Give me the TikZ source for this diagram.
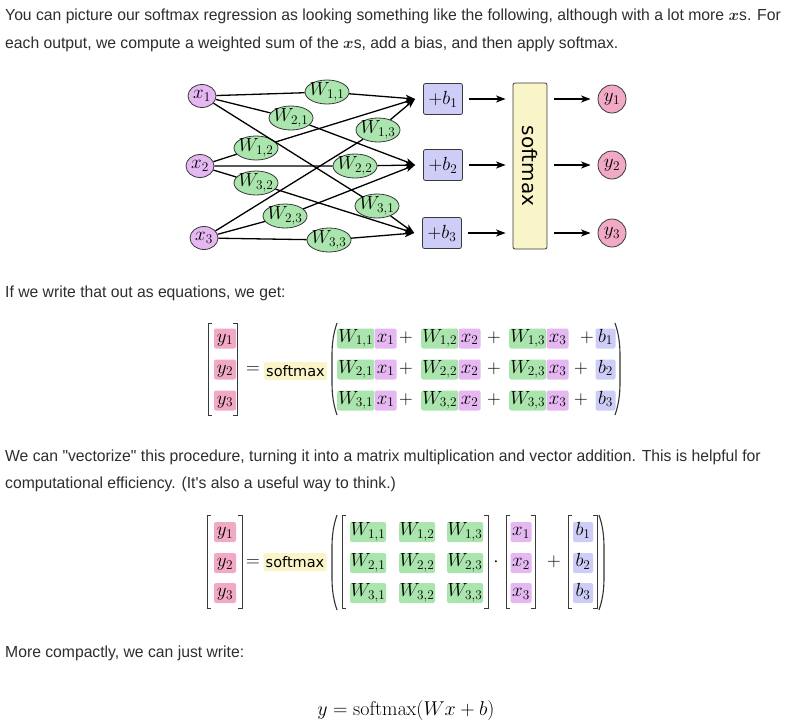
\RequirePackage{fix-cm}
\documentclass[tikz,border=0pt]{standalone}
\usepackage{amsmath}
\usepackage[no-math]{fontspec}
\newfontfamily\textofont{Liberation Sans}[FakeStretch=0.982]
\newfontfamily\etiquetafont{DejaVu Sans}
\usetikzlibrary{arrows.meta,shapes.geometric,positioning}
\definecolor{texto}{HTML}{2E2E2E}
\definecolor{borde}{HTML}{3A3A3A}
\definecolor{colx}{HTML}{E6B8F2}
\definecolor{coly}{HTML}{F2A9C5}
\definecolor{colw}{HTML}{A9E5AC}
\definecolor{colb}{HTML}{CDCDF8}
\definecolor{colsm}{HTML}{FAF4C9}

\begin{document}
\begin{tikzpicture}[x=1pt,y=-1pt,
    >={Stealth[length=9.5pt,width=7pt,inset=2.5pt]},
    mate/.style={font=\fontsize{19}{23}\selectfont},
    parr/.style={font=\textofont\fontsize{16}{20}\selectfont,text=texto,anchor=base west,inner sep=0pt},
    entrada/.style={ellipse,draw=borde,line width=0.8pt,fill=colx,minimum width=28pt,minimum height=23pt,inner sep=0pt,mate},
    salida/.style={circle,draw=borde,line width=0.8pt,fill=coly,minimum size=28pt,inner sep=0pt,mate},
    peso/.style={ellipse,draw=borde,line width=0.8pt,fill=colw,minimum width=44pt,minimum height=24pt,inner sep=-3pt,mate},
    sesgo/.style={rectangle,rounded corners=2pt,draw=borde,line width=0.8pt,fill=colb,minimum width=39pt,minimum height=31pt,inner sep=0pt,mate},
    flecha/.style={->,line width=1.3pt},
    marca/.style={rounded corners=2pt,inner xsep=0pt,inner ysep=0.5pt,text height=13pt,text depth=6pt,mate},
    signo/.style={inner sep=0pt,text height=13pt,text depth=6pt,mate},
    my/.style={marca,fill=coly,minimum width=22pt},
    mx/.style={marca,fill=colx,minimum width=22pt},
    mw/.style={marca,fill=colw,minimum width=37pt},
    mb/.style={marca,fill=colb,minimum width=20pt},
    msm/.style={rounded corners=2pt,inner sep=0pt,fill=colsm,minimum width=63pt,minimum height=18pt,font=\etiquetafont\fontsize{14.5}{17}\selectfont},
    corch/.style={line width=1pt,draw=borde},
    paren/.style={line width=1.1pt,draw=black!80}]
    \fill[white] (0,0) rectangle (807,726);
    \useasboundingbox (0,0) rectangle (807,726);

    %Texto
    \node[parr] (t1) at (5,20.5) {You can picture our softmax regression as looking something like the following, although with a lot more $\boldsymbol{x}$s. For};
    \node[parr] (t2) at (5,48.5) {each output, we compute a weighted sum of the $\boldsymbol{x}$s, add a bias, and then apply softmax.};
    \node[parr] (t3) at (5,297) {If we write that out as equations, we get:};
    \node[parr] (t4) at (5,461) {We can "vectorize" this procedure, turning it into a matrix multiplication and vector addition. This is helpful for};
    \node[parr] (t5) at (5,488) {computational efficiency. (It's also a useful way to think.)};
    \node[parr] (t6) at (5,657) {More compactly, we can just write:};

    %Red
    \node[entrada] (x1) at (202,96) {$x_1$};
    \node[entrada] (x2) at (200,166) {$x_2$};
    \node[entrada] (x3) at (204,238) {$x_3$};
    \foreach \i/\px/\py in {1/443/99,2/443/165,3/442/233}{
        \node[sesgo] (b\i) at (\px,\py) {$+b_\i$};
        \coordinate (e\i) at ([xshift=-8pt]b\i.west);
        \node[salida] (y\i) at (612,\py) {$y_\i$};
    }
    \node[rectangle,rounded corners=2pt,draw=borde,line width=0.8pt,fill=colsm,minimum width=34pt,minimum height=166pt] (sm) at (530,166) {};
    \node[rotate=-90,font=\etiquetafont\fontsize{20}{24}\selectfont] (smt) at (sm.center) {softmax};
    \foreach \i/\j/\px/\py in {1/1/327/92,2/1/291/118,1/3/378/130,1/2/256/148,2/2/355/166,3/2/256/183,3/1/377/206,2/3/285/216,3/3/329/240}{
        \node[peso] (w\i\j) at (\px,\py) {$W_{\i,\j}$};
    }
    \foreach \i in {1,2,3}{
        \foreach \j in {1,2,3}{
            \draw[flecha] (x\j) -- (w\i\j) -- (e\i);
        }
        \draw[flecha,shorten <=6pt,shorten >=7pt] (b\i) -- (b\i -| sm.west);
        \draw[flecha,shorten <=7pt,shorten >=7pt] (sm.east |- y\i) -- (y\i);
    }

    %Ecuacion 1
    \foreach \f/\yy/\sx in {1/338.5/587,2/369.5/581,3/400.5/581}{
        \node[my] (ay\f) at (225,\yy) {$y_\f$};
        \node[mw,anchor=west] (aw\f1) at (337,\yy) {$W_{\f,1}$};
        \node[mx,anchor=west] (ax\f1) at (aw\f1.east) {$x_1$};
        \node[signo] (ap\f1) at (406,\yy) {$+$};
        \node[mw,anchor=west] (aw\f2) at (421,\yy) {$W_{\f,2}$};
        \node[mx,anchor=west] (ax\f2) at (aw\f2.east) {$x_2$};
        \node[signo] (ap\f2) at (494,\yy) {$+$};
        \node[mw,anchor=west] (aw\f3) at (509,\yy) {$W_{\f,3}$};
        \node[mx,anchor=west] (ax\f3) at (aw\f3.east) {$x_3$};
        \node[signo] (ap\f3) at (\sx,\yy) {$+$};
        \node[mb] (ab\f) at (605.5,\yy) {$b_\f$};
    }
    \node[signo] (aeq) at (253,369.5) {$=$};
    \node[msm] (asm) at (295.5,371) {softmax};

    %Ecuacion 2
    \foreach \f/\yy in {1/532,2/563,3/593}{
        \node[my] (by\f) at (225,\yy) {$y_\f$};
        \foreach \c/\xx in {1/368,2/417,3/465}{
            \node[mw,minimum width=36pt] (bw\f\c) at (\xx,\yy) {$W_{\f,\c}$};
        }
        \node[mx,minimum width=21pt] (bx\f) at (521,\yy) {$x_\f$};
        \node[mb] (bb\f) at (583,\yy) {$b_\f$};
    }
    \node[signo] (beq) at (253,563) {$=$};
    \node[msm] (bsm) at (295,562) {softmax};
    \node[signo] (bdot) at (496,563) {$\cdot$};
    \node[signo] (bmas) at (554,563) {$+$};

    %Corchetes y parentesis
    \foreach \xa/\xb/\ya/\yb in {208/237/323/415,207/242/515/608,342/488/515/608,506/535/515/608,568/597/515/608}{
        \draw[corch] (\xa+4,\ya) -- (\xa,\ya) -- (\xa,\yb) -- (\xa+4,\yb);
        \draw[corch] (\xb-4,\ya) -- (\xb,\ya) -- (\xb,\yb) -- (\xb-4,\yb);
    }
    \foreach \xa/\xb/\ya/\yb in {332/620/323/415,332/604/515/610}{
        \draw[paren] (\xa+5,\ya) .. controls (\xa+1.5,\ya+10) and (\xa,\ya+20) .. (\xa,\ya+32) -- (\xa,\yb-32) .. controls (\xa,\yb-20) and (\xa+1.5,\yb-10) .. (\xa+5,\yb);
        \draw[paren] (\xb-5,\ya) .. controls (\xb-1.5,\ya+10) and (\xb,\ya+20) .. (\xb,\ya+32) -- (\xb,\yb-32) .. controls (\xb,\yb-20) and (\xb-1.5,\yb-10) .. (\xb-5,\yb);
    }

    %Final
    \node[anchor=base,font=\fontsize{20}{24}\selectfont] (final) at (406,715) {$y = \mathrm{softmax}(Wx + b)$};
\end{tikzpicture}
\end{document}
